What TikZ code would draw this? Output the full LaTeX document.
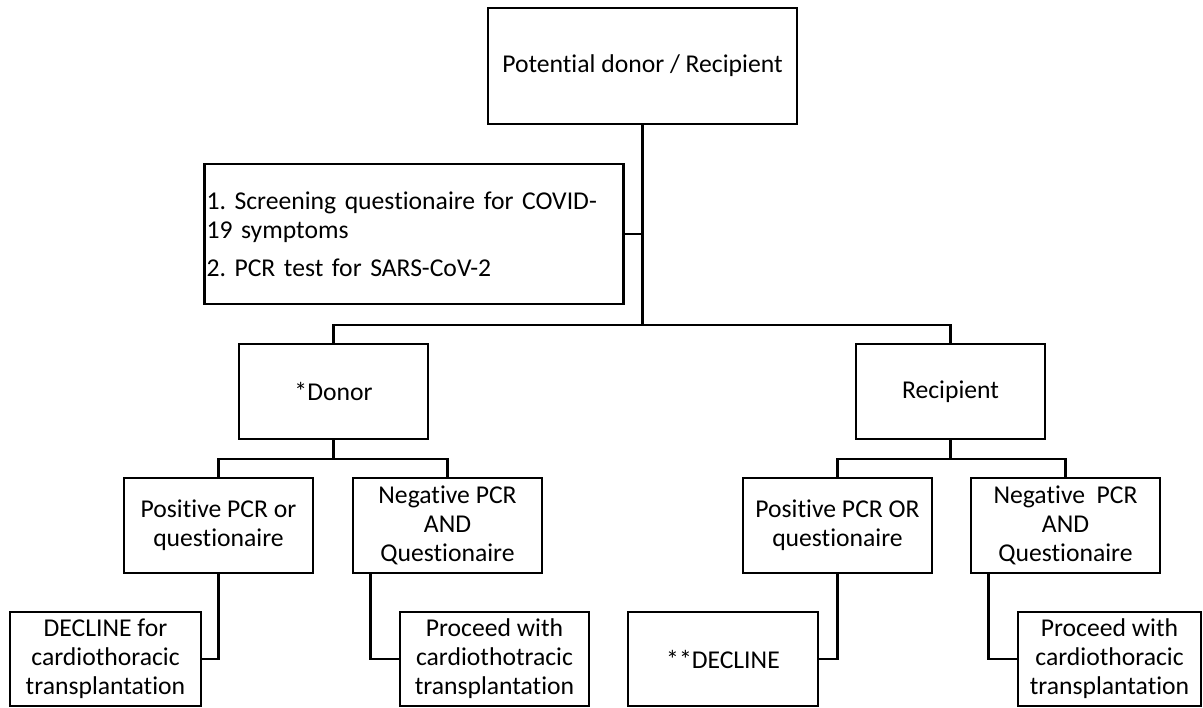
\documentclass[tikz,border=0pt]{standalone}
\usepackage{fontspec}
\setmainfont{Carlito}[RawFeature=-liga]
\frenchspacing
\tikzset{
  flowbox/.style={draw, line width=1.6pt, align=center, inner sep=1pt,
    font=\fontsize{14.6}{16.5}\selectfont},
  midbox/.style={flowbox, minimum width=3.78cm, minimum height=1.9cm},
  endbox/.style={flowbox, minimum width=3.8cm, minimum height=1.88cm},
  link/.style={line width=1.3pt},
}
\begin{document}
\begin{tikzpicture}[x=0.02cm, y=-0.02cm]
\useasboundingbox (0,0) rectangle (1203,707);

% top and screening
\node[flowbox, minimum width=6.18cm, minimum height=2.32cm] (start) at (642.5,66) {Potential donor / Recipient};
\node[flowbox, minimum height=2.8cm, text width=8.3cm, align=left] (screen) at (414,234)
  {1. Screening questionaire for COVID-\\19 symptoms\\[5pt]2. PCR test for SARS-CoV-2};

% donor / recipient
\node[midbox] (donor) at (333.5,391.5) {*Donor};
\node[midbox] (recip) at (950.5,391.5) {Recipient};

\node[midbox] (dpos) at (218.5,525.5) {Positive PCR or\\questionaire};
\node[midbox] (dneg) at (447.5,525.5) {Negative PCR\\AND\\Questionaire};
\node[midbox] (rpos) at (837.5,525.5) {Positive PCR OR\\questionaire};
\node[midbox] (rneg) at (1065.5,525.5) {Negative~~PCR\\AND\\Questionaire};

\node[endbox, minimum width=3.82cm] (ddec) at (105.5,659) {DECLINE for\\cardiothoracic\\transplantation};
\node[endbox, minimum width=3.78cm] (dpro) at (494.5,659) {Proceed with\\cardiothotracic\\transplantation};
\node[endbox] (rdec) at (723,659) {**DECLINE};
\node[endbox, minimum width=3.66cm] (rpro) at (1109.5,659) {Proceed with\\cardiothoracic\\transplantation};

\coordinate (fork) at (642.5,325);
\coordinate (dfork) at (333.5,459);
\coordinate (rfork) at (950.5,459);

\draw[link] (start.south) -- (fork);
\draw[line width=0.9pt] (screen.east) -- (screen.east -| fork);
\draw[link] (donor.north) -- (donor.north |- fork) -- (recip.north |- fork) -- (recip.north);

\draw[link] (donor.south) -- (dfork);
\draw[link] (dpos.north) -- (dpos.north |- dfork) -- (dneg.north |- dfork) -- (dneg.north);
\draw[link] (recip.south) -- (rfork);
\draw[link] (rpos.north) -- (rpos.north |- rfork) -- (rneg.north |- rfork) -- (rneg.north);

\draw[link] (dpos.south) |- (ddec.east);
\draw[link] ([xshift=0.38cm]dneg.south west) |- (dpro.west);
\draw[link] (rpos.south) |- (rdec.east);
\draw[link] ([xshift=0.38cm]rneg.south west) |- (rpro.west);

\end{tikzpicture}
\end{document}
